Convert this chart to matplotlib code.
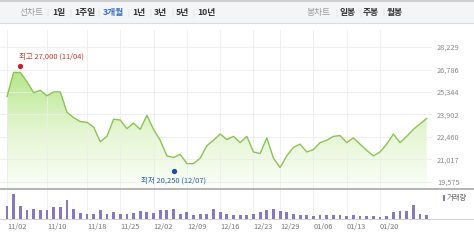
import numpy as np
import matplotlib
matplotlib.use("Agg")
import matplotlib.pyplot as plt
from matplotlib.colors import LinearSegmentedColormap
from matplotlib.lines import Line2D
from matplotlib.patches import Rectangle, PathPatch
from matplotlib.path import Path

plt.rcParams['font.family'] = ['Noto Sans CJK KR', 'DejaVu Sans']

# ---- data ----
prices = [25050, 26600, 26600, 26000, 25300, 25450, 25100, 25350, 25350, 24050,
          23700, 23450, 23400, 23100, 22150, 22500, 23600, 23550, 23000, 23350,
          22950, 23850, 22950, 22250, 21250, 21150, 21350, 20750, 20750, 21100,
          21900, 22250, 22650, 22300, 22500, 22100, 22500, 21500, 21400, 22400,
          21100, 20500, 21250, 21800, 22000, 21500, 21650, 22100, 22250, 22500,
          22550, 22100, 22400, 22000, 21600, 21250, 21500, 22000, 22650, 22100,
          22500, 22950, 23300, 23650]
volumes = [492, 1000, 492, 360, 400, 360, 360, 468, 468, 760,
           400, 228, 200, 200, 332, 200, 268, 172, 172, 240,
           300, 260, 220, 332, 332, 372, 200, 268, 160, 200,
           200, 400, 268, 200, 160, 160, 160, 200, 268, 332,
           400, 292, 268, 200, 160, 160, 108, 132, 160, 132,
           132, 108, 132, 108, 108, 108, 68, 108, 268, 292,
           292, 560, 200, 132]
date_labels = ['11/02', '11/10', '11/18', '11/25', '12/02', '12/09',
               '12/16', '12/23', '12/29', '01/06', '01/13', '01/20']
date_idx = [0, 6, 12, 17, 22, 27, 32, 37, 41, 46, 51, 56]
price_ticks = [19575, 21017, 22460, 23902, 25344, 26786, 28229]
high_idx, high_val, high_text = 2, 27000, '최고 27,000 (11/04)'
low_idx, low_val, low_text = 25, 20250, '최저 20,250 (12/07)'
left_tabs = ['선차트', '1일', '1주일', '3개월', '1년', '3년', '5년', '10년']
right_tabs = ['봉차트', '일봉', '주봉', '월봉']

W, H = 474, 244
fig = plt.figure(figsize=(W / 100, H / 100), dpi=100)


def px_axes(x0, y0, x1, y1):
    return fig.add_axes([x0 / W, 1 - y1 / H, (x1 - x0) / W, (y1 - y0) / H])


def fx(px):
    return px / W


def fy(py):
    return 1 - py / H


x = np.arange(len(prices))
xlim = (-1.05, 63.8)

# ---- header tabs ----
fig.add_artist(Rectangle((0, fy(23)), 1, fy(0) - fy(23), transform=fig.transFigure,
                         facecolor='#f4f5f7', edgecolor='none'))
fig.add_artist(Line2D([0, 1], [fy(0.8), fy(0.8)], transform=fig.transFigure,
                      color='#cfcfcf', lw=1.5))
fig.add_artist(Line2D([0, 1], [fy(22.5), fy(22.5)], transform=fig.transFigure,
                      color='#dddddd', lw=0.8))
left_pos = [32, 59, 85, 113, 139, 160, 182, 206]
for i, (lbl, px) in enumerate(zip(left_tabs, left_pos)):
    if i == 0:
        col, wt = '#9a9a9a', 'normal'
    elif lbl == '3개월':
        col, wt = '#3b6cc7', 'bold'
    else:
        col, wt = '#333333', 'bold'
    fig.text(fx(px), fy(13), lbl, ha='center', va='center', fontsize=6.3,
             color=col, fontweight=wt)
for px in [47, 70, 98, 128, 150, 172, 193]:
    fig.text(fx(px), fy(13), '|', ha='center', va='center', fontsize=5.5, color='#d8d8d8')
right_pos = [319, 348, 371, 395]
for i, (lbl, px) in enumerate(zip(right_tabs, right_pos)):
    col, wt = ('#9a9a9a', 'normal') if i == 0 else ('#333333', 'bold')
    fig.text(fx(px), fy(13), lbl, ha='center', va='center', fontsize=6.3,
             color=col, fontweight=wt)
for px in [336, 360, 383]:
    fig.text(fx(px), fy(13), '|', ha='center', va='center', fontsize=5.5, color='#d8d8d8')

# ---- price chart ----
ax = px_axes(0, 30, 432, 188)
ylim = (19190, 29318)
for s in ax.spines.values():
    s.set_visible(False)

# gradient area under the line
verts = [(x[0], ylim[0])] + list(zip(x, prices)) + [(x[-1], ylim[0])]
clip = PathPatch(Path(verts), facecolor='none', edgecolor='none', transform=ax.transData)
ax.add_patch(clip)
cmap = LinearSegmentedColormap.from_list('g', ['#fbfef8', '#e3f6d1', '#b7e68b'])
grad = np.linspace(0, 1, 256).reshape(-1, 1)
im = ax.imshow(grad, aspect='auto', cmap=cmap, origin='lower',
               extent=[x[0], x[-1], ylim[0], max(prices)], zorder=1)
im.set_clip_path(clip)

ax.plot(x, prices, color='#8cc256', lw=1.0, zorder=3)

ax.set_xlim(*xlim)
ax.set_ylim(*ylim)
ax.set_yticks(price_ticks)
ax.set_yticklabels([f'{v:,}' for v in price_ticks])
ax.set_xticks(date_idx)
ax.set_xticklabels([])
ax.tick_params(axis='x', length=0)
ax.tick_params(axis='y', left=False, labelleft=False, right=False, labelright=True,
               length=0, pad=3.5, labelsize=5.3, labelcolor='#888888')
ax.grid(True, color='#ededed', lw=0.6, zorder=0)

# high / low markers
ax.plot([high_idx], [high_val], 'o', color='#cc1f2a', ms=2.8, zorder=4)
ax.text(high_idx - 0.25, 27600, high_text, ha='left', va='center', fontsize=5.4,
        color='#c0392b')
ax.plot([low_idx], [low_val], 'o', color='#1f4f9e', ms=2.8, zorder=4)
ax.text(low_idx, 19650, low_text, ha='center', va='center', fontsize=5.4,
        color='#2f5fa7', clip_on=False)

# ---- volume chart ----
vax = px_axes(0, 189, 432, 218.5)
for s in vax.spines.values():
    s.set_visible(False)
vax.bar(x, volumes, width=0.42, color='#8878c3', zorder=2)
vax.set_xlim(*xlim)
vax.set_ylim(0, max(volumes) * 29.5 / 25)
vax.set_yticks([])
vax.set_xticks(date_idx)
vax.set_xticklabels([])
vax.tick_params(axis='x', length=0)
vax.grid(True, axis='x', color='#efefef', lw=0.6, zorder=0)

fig.add_artist(Line2D([0, 1], [fy(188.5), fy(188.5)], transform=fig.transFigure,
                      color='#a8a8a8', lw=1.2))
fig.add_artist(Line2D([0, 1], [fy(218.6), fy(218.6)], transform=fig.transFigure,
                      color='#d0d0d0', lw=0.7))

# date labels
for lbl, i in zip(date_labels, date_idx):
    px = (i - xlim[0]) / (xlim[1] - xlim[0]) * 432
    fig.text(fx(px), fy(227), lbl, ha='left', va='center', fontsize=5.3, color='#777777')

# volume legend
fig.add_artist(Rectangle((fx(443), fy(201)), fx(2), fy(195) - fy(201),
                         transform=fig.transFigure, facecolor='#8878c3', edgecolor='none'))
fig.text(fx(447), fy(198), '거래량', ha='left', va='center', fontsize=5.3, color='#666666')

fig.savefig('out.png', dpi=100)
